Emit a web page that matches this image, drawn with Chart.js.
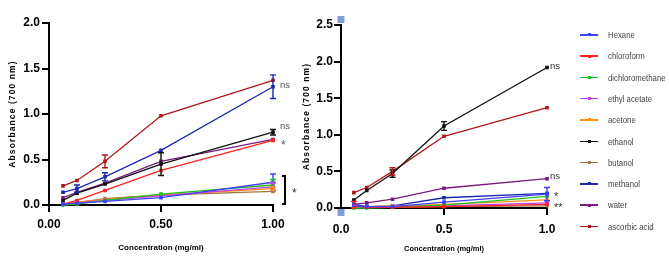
<!DOCTYPE html>
<html><head><meta charset="utf-8">
<script src="https://cdn.jsdelivr.net/npm/chart.js@4.4.1/dist/chart.umd.min.js"></script>
<style>
html,body{margin:0;padding:0;background:#fff;}
#wrap{position:relative;width:669px;height:263px;overflow:hidden;background:#fff;}
#c1wrap{position:absolute;left:0;top:0;width:300px;height:263px;}
#c2wrap{position:absolute;left:300px;top:0;width:280px;height:263px;}
#legend{position:absolute;left:578px;top:0;width:91px;height:263px;font-family:"Liberation Sans",Arial,sans-serif;font-size:9.5px;color:#444;}
.li{position:absolute;left:0;height:12px;line-height:12px;white-space:nowrap;width:91px;}
.sw{position:absolute;left:2px;top:5px;width:18px;height:1.5px;}
.dot{position:absolute;left:7.5px;top:-0.8px;width:3px;height:3px;}
.lt{position:absolute;left:30px;top:0;display:inline-block;transform:scaleX(0.82);transform-origin:0 50%;}
</style>
</head><body>
<div id="wrap">
  <div id="c1wrap"><canvas id="c1" width="300" height="263"></canvas></div>
  <div id="c2wrap"><canvas id="c2" width="280" height="263"></canvas></div>
  <div id="legend"></div>
</div>
<script>
// ---------- DATA ----------
const concentrations = [0.0625, 0.125, 0.25, 0.5, 1.0];
const solventNames = ['Hexane','chloroform','dichloromethane','ethyl acetate','acetone','ethanol','butanol','methanol','water','ascorbic acid'];

// Left panel: mean absorbance
const leftHexane        = [0.01, 0.02, 0.04, 0.08, 0.25];
const leftChloroform    = [0.01, 0.05, 0.16, 0.38, 0.71];
const leftDichloro      = [0.00, 0.01, 0.05, 0.12, 0.22];
const leftEthylAcetate  = [0.01, 0.02, 0.05, 0.10, 0.20];
const leftAcetone       = [0.01, 0.03, 0.06, 0.11, 0.18];
const leftEthanol       = [0.05, 0.13, 0.23, 0.45, 0.80];
const leftButanol       = [0.01, 0.03, 0.07, 0.11, 0.15];
const leftMethanol      = [0.14, 0.18, 0.31, 0.60, 1.30];
const leftWater         = [0.08, 0.14, 0.24, 0.48, 0.72];
const leftAscorbic      = [0.21, 0.27, 0.48, 0.98, 1.37];
// Left panel: error (±)
const leftHexaneErr       = [0, 0, 0, 0, 0.09];
const leftChloroformErr   = [0, 0, 0, 0, 0];
const leftDichloroErr     = [0, 0, 0, 0, 0.06];
const leftEthylAcetateErr = [0, 0, 0, 0, 0.045];
const leftAcetoneErr      = [0, 0, 0, 0, 0.02];
const leftEthanolErr      = [0, 0, 0, 0.125, 0.03];
const leftButanolErr      = [0, 0, 0, 0, 0];
const leftMethanolErr     = [0, 0.04, 0.045, 0, 0.13];
const leftWaterErr        = [0, 0, 0, 0, 0];
const leftAscorbicErr     = [0, 0, 0.07, 0, 0];

// Right panel: mean absorbance
const rightHexane       = [0.03, 0.02, 0.02, 0.08, 0.19];
const rightChloroform   = [0.03, 0.01, 0.01, 0.02, 0.05];
const rightDichloro     = [0.00, 0.00, 0.01, 0.04, 0.16];
const rightEthylAcetate = [0.01, 0.01, 0.02, 0.03, 0.07];
const rightAcetone      = [0.02, 0.02, 0.03, 0.05, 0.11];
const rightEthanol      = [0.11, 0.24, 0.47, 1.12, 1.92];
const rightButanol      = [0.01, 0.01, 0.01, 0.02, 0.03];
const rightMethanol     = [0.05, 0.02, 0.03, 0.14, 0.20];
const rightWater        = [0.05, 0.07, 0.12, 0.27, 0.40];
const rightAscorbic     = [0.21, 0.28, 0.50, 0.98, 1.37];
// Right panel: error (±)
const rightHexaneErr       = [0, 0, 0, 0, 0.09];
const rightChloroformErr   = [0.06, 0, 0, 0, 0];
const rightDichloroErr     = [0, 0, 0, 0, 0];
const rightEthylAcetateErr = [0, 0, 0, 0, 0];
const rightAcetoneErr      = [0, 0, 0, 0, 0];
const rightEthanolErr      = [0, 0, 0.05, 0.06, 0];
const rightButanolErr      = [0, 0, 0, 0, 0];
const rightMethanolErr     = [0, 0, 0, 0, 0];
const rightWaterErr        = [0, 0, 0, 0, 0];
const rightAscorbicErr     = [0, 0, 0.05, 0, 0];

const leftYTicks = [0, 0.5, 1.0, 1.5, 2.0];
const rightYTicks = [0, 0.5, 1.0, 1.5, 2.0, 2.5];
const xTicks = [0, 0.5, 1.0];

// Significance labels (text, y value)
const leftNotes  = [['ns', 1.31], ['ns', 0.86], ['*', 0.70]];
const leftBracket = [0.01, 0.32, '*'];
const rightNotes = [['ns', 1.93], ['ns', 0.43], ['*', 0.20], ['**', 0.05]];

// ---------- STYLE ----------
const seriesColors = ['#4040ff','#ff2020','#20c020','#c040f0','#ff9010','#101010','#a07848','#1c28b0','#7a1a80','#b01818'];

const leftMeans  = [leftHexane,leftChloroform,leftDichloro,leftEthylAcetate,leftAcetone,leftEthanol,leftButanol,leftMethanol,leftWater,leftAscorbic];
const leftErrs   = [leftHexaneErr,leftChloroformErr,leftDichloroErr,leftEthylAcetateErr,leftAcetoneErr,leftEthanolErr,leftButanolErr,leftMethanolErr,leftWaterErr,leftAscorbicErr];
const rightMeans = [rightHexane,rightChloroform,rightDichloro,rightEthylAcetate,rightAcetone,rightEthanol,rightButanol,rightMethanol,rightWater,rightAscorbic];
const rightErrs  = [rightHexaneErr,rightChloroformErr,rightDichloroErr,rightEthylAcetateErr,rightAcetoneErr,rightEthanolErr,rightButanolErr,rightMethanolErr,rightWaterErr,rightAscorbicErr];

function buildDatasets(means, errs){
  return solventNames.map((name,i)=>({
    label: name,
    data: concentrations.map((c,j)=>({x:c, y:means[i][j]})),
    errors: errs[i],
    borderColor: seriesColors[i],
    backgroundColor: seriesColors[i],
    borderWidth: 1.3,
    pointStyle: 'rect',
    pointRadius: 1.6,
    pointHoverRadius: 1.6,
    tension: 0,
    clip: false
  }));
}

const errorBarPlugin = {
  id: 'errorBars',
  afterDatasetsDraw(chart){
    const ctx = chart.ctx, ys = chart.scales.y;
    chart.data.datasets.forEach((ds,i)=>{
      const meta = chart.getDatasetMeta(i);
      ds.errors.forEach((e,j)=>{
        if(!e) return;
        const p = meta.data[j];
        const v = ds.data[j].y;
        const t = ys.getPixelForValue(v+e), b = ys.getPixelForValue(Math.max(v-e, 0));
        ctx.save();
        ctx.strokeStyle = ds.borderColor; ctx.lineWidth = 1.4;
        ctx.beginPath();
        ctx.moveTo(p.x, t); ctx.lineTo(p.x, b);
        ctx.moveTo(p.x-3, t); ctx.lineTo(p.x+3, t);
        ctx.moveTo(p.x-3, b); ctx.lineTo(p.x+3, b);
        ctx.stroke();
        ctx.restore();
      });
    });
  }
};

function titlePlugin(yTitleX, xTitleY, yFont, xFont, ySpacing){
  return {
    id: 'axisTitles',
    afterDraw(chart){
      const ctx = chart.ctx, a = chart.chartArea;
      ctx.save();
      ctx.fillStyle = '#000';
      ctx.textAlign = 'center'; ctx.textBaseline = 'middle';
      ctx.font = yFont;
      if ('letterSpacing' in ctx) ctx.letterSpacing = ySpacing;
      ctx.translate(yTitleX, (a.top + a.bottom)/2);
      ctx.rotate(-Math.PI/2);
      ctx.fillText('Absorbance (700 nm)', 0, 0);
      ctx.restore();
      ctx.save();
      ctx.fillStyle = '#000';
      ctx.textAlign = 'center'; ctx.textBaseline = 'middle';
      ctx.font = xFont;
      if ('letterSpacing' in ctx) ctx.letterSpacing = '0px';
      ctx.fillText('Concentration (mg/ml)', (a.left + a.right)/2, xTitleY);
      ctx.restore();
    }
  };
}

function makeOptions(o){
  return {
    responsive: false,
    animation: false,
    devicePixelRatio: 1,
    layout: { padding: { left: 0, top: o.top, right: o.right, bottom: 0 } },
    plugins: { legend: { display: false }, tooltip: { enabled: false } },
    scales: {
      x: {
        type: 'linear', min: 0, max: 1,
        afterFit: s => { s.height = o.xh; },
        afterBuildTicks: s => { s.ticks = xTicks.map(v=>({value:v})); },
        ticks: { callback: v => Number(v).toFixed(o.xdec), color: '#000', font: o.tickFont, padding: o.xpad, maxRotation: 0 },
        grid: { display: true, drawOnChartArea: false, drawTicks: true, tickLength: 7, color: '#000', lineWidth: 2 },
        border: { display: true, color: '#000', width: 2 }
      },
      y: {
        type: 'linear', min: 0, max: o.ymax,
        afterFit: s => { s.width = o.yw; },
        afterBuildTicks: s => { s.ticks = o.yticks.map(v=>({value:v})); },
        ticks: { callback: v => Number(v).toFixed(1), color: '#000', font: o.tickFont, padding: o.ypad },
        grid: { display: true, drawOnChartArea: false, drawTicks: true, tickLength: 7, color: '#000', lineWidth: 2 },
        border: { display: true, color: '#000', width: 2 }
      }
    }
  };
}

// ---------- LEFT CHART ----------
const leftNotesPlugin = {
  id: 'leftNotes',
  afterDraw(chart){
    const ctx = chart.ctx, xs = chart.scales.x, ys = chart.scales.y;
    const x1 = xs.getPixelForValue(1);
    ctx.save();
    ctx.fillStyle = '#555'; ctx.textBaseline = 'middle'; ctx.textAlign = 'left';
    leftNotes.forEach(([t,v])=>{
      const yy = ys.getPixelForValue(v);
      if (t === '*') { ctx.font = '12px "Liberation Sans", Arial, sans-serif'; ctx.fillText(t, x1 + 8, yy + 4); }
      else { ctx.font = '9.5px "Liberation Sans", Arial, sans-serif'; ctx.fillText(t, x1 + 7, yy); }
    });
    // bracket
    const bt = ys.getPixelForValue(leftBracket[1]), bb = ys.getPixelForValue(leftBracket[0]);
    ctx.strokeStyle = '#000'; ctx.lineWidth = 2;
    ctx.beginPath();
    ctx.moveTo(x1 + 9, bt); ctx.lineTo(x1 + 12, bt); ctx.lineTo(x1 + 12, bb); ctx.lineTo(x1 + 9, bb);
    ctx.stroke();
    ctx.fillStyle = '#333';
    ctx.font = '12px "Liberation Sans", Arial, sans-serif';
    ctx.fillText(leftBracket[2], x1 + 19, (bt+bb)/2 + 4);
    ctx.restore();
  }
};

new Chart(document.getElementById('c1'), {
  type: 'line',
  data: { datasets: buildDatasets(leftMeans, leftErrs) },
  options: makeOptions({ top: 23, right: 27, xh: 58, yw: 49, ymax: 2, yticks: leftYTicks, xdec: 2,
    tickFont: { family: '"Liberation Sans", Arial, sans-serif', weight: 'bold', size: 12 }, xpad: 5, ypad: 2 }),
  plugins: [errorBarPlugin, leftNotesPlugin, titlePlugin(13, 247.5, 'bold 8.5px "Liberation Sans", Arial, sans-serif', 'bold 8px "Liberation Sans", Arial, sans-serif', '1.1px')]
});

// ---------- RIGHT CHART ----------
const rightNotesPlugin = {
  id: 'rightNotes',
  afterDraw(chart){
    const ctx = chart.ctx, xs = chart.scales.x, ys = chart.scales.y, a = chart.chartArea;
    const x1 = xs.getPixelForValue(1);
    ctx.save();
    ctx.fillStyle = '#333'; ctx.textBaseline = 'middle'; ctx.textAlign = 'left';
    rightNotes.forEach(([t,v])=>{
      const yy = ys.getPixelForValue(v);
      if (t.startsWith('*')) { ctx.font = '11px "Liberation Sans", Arial, sans-serif'; ctx.fillText(t, x1 + 7, yy + 4); }
      else { ctx.font = '9.5px "Liberation Sans", Arial, sans-serif'; ctx.fillText(t, x1 + 3, yy); }
    });
    // axis end markers
    ctx.fillStyle = '#7d9fd6';
    ctx.fillRect(a.left - 3.5, a.top - 9, 7, 7);
    ctx.fillRect(a.left - 3.5, a.bottom + 1, 7, 7);
    ctx.restore();
  }
};

new Chart(document.getElementById('c2'), {
  type: 'line',
  data: { datasets: buildDatasets(rightMeans, rightErrs) },
  options: makeOptions({ top: 25, right: 33, xh: 55, yw: 41, ymax: 2.5, yticks: rightYTicks, xdec: 1,
    tickFont: { family: '"Liberation Sans", Arial, sans-serif', weight: 'bold', size: 12 }, xpad: 7, ypad: 1 }),
  plugins: [errorBarPlugin, rightNotesPlugin, titlePlugin(7, 249, 'bold 8.5px "Liberation Sans", Arial, sans-serif', 'bold 7.5px "Liberation Sans", Arial, sans-serif', '1.1px')]
});

// ---------- LEGEND ----------
const legend = document.getElementById('legend');
solventNames.forEach((name,i)=>{
  const item = document.createElement('div');
  item.className = 'li';
  item.style.top = (29 + i*21.3) + 'px';
  const sw = document.createElement('div'); sw.className = 'sw'; sw.style.background = seriesColors[i];
  const dot = document.createElement('div'); dot.className = 'dot'; dot.style.background = seriesColors[i];
  sw.appendChild(dot);
  const t = document.createElement('span'); t.className = 'lt'; t.textContent = name;
  item.appendChild(sw); item.appendChild(t);
  legend.appendChild(item);
});
</script>
</body></html>
